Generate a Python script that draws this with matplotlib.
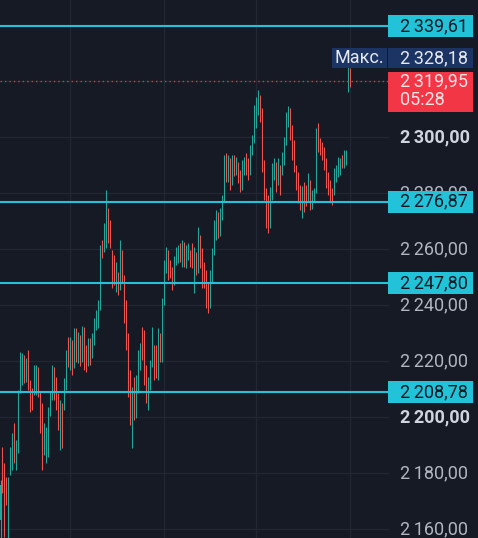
import matplotlib
matplotlib.use("Agg")
import matplotlib.pyplot as plt
import matplotlib.transforms as mtransforms
from matplotlib.patches import Rectangle
import numpy as np

plt.rcParams['font.family'] = ['Roboto', 'DejaVu Sans']

# candle data
opens = [2163.2, 2188.2, 2177.5, 2175.7, 2159.6, 2181.1, 2184.6, 2196.1, 2184.6, 2188.9,
         2209.6, 2215.0, 2220.4, 2213.9, 2220.4, 2211.4, 2207.0, 2209.6, 2211.4, 2216.8,
         2207.9, 2200.7, 2188.2, 2184.6, 2191.8, 2201.8, 2206.8, 2216.1, 2211.4, 2206.1,
         2191.8, 2202.5, 2204.3, 2211.4, 2225.7, 2218.6, 2225.7, 2218.6, 2229.3, 2220.4,
         2227.5, 2221.1, 2231.1, 2223.2, 2219.6, 2225.7, 2222.1, 2227.5, 2232.9, 2235.4,
         2240.0, 2261.4, 2259.6, 2261.4, 2273.9, 2268.6, 2257.9, 2256.1, 2246.1, 2250.7,
         2247.1, 2257.9, 2248.9, 2240.0, 2227.5, 2213.2, 2197.1, 2209.6, 2202.5, 2210.4,
         2219.6, 2229.3, 2227.5, 2216.8, 2204.3, 2211.4, 2218.6, 2224.6, 2223.9, 2216.1,
         2228.2, 2222.1, 2241.8, 2253.2, 2258.9, 2255.4, 2251.8, 2248.9, 2255.4, 2256.1,
         2261.4, 2255.4, 2261.4, 2254.3, 2256.8, 2258.6, 2261.4, 2254.0, 2257.9, 2252.5,
         2263.2, 2258.9, 2254.3, 2250.7, 2247.1, 2240.0, 2249.6, 2258.9, 2265.0, 2272.1,
         2266.1, 2272.1, 2278.2, 2291.8, 2285.4, 2291.1, 2283.9, 2292.5, 2287.5, 2290.0,
         2286.4, 2282.9, 2288.2, 2292.9, 2291.1, 2288.2, 2294.6, 2298.9, 2307.9, 2309.6,
         2313.2, 2307.9, 2290.0, 2280.4, 2277.5, 2272.1, 2279.3, 2286.4, 2290.0, 2284.6,
         2288.9, 2287.5, 2291.8, 2298.2, 2305.4, 2308.9, 2302.5, 2297.1, 2288.9, 2286.4,
         2281.8, 2273.9, 2282.9, 2281.8, 2278.2, 2283.9, 2275.7, 2278.2, 2281.1, 2303.2,
         2298.2, 2297.1, 2295.4, 2291.1, 2286.4, 2283.9, 2279.3, 2281.1, 2285.4, 2288.2,
         2288.2, 2292.5, 2290.0, 2291.8, 2317.0, 2323.0]
highs = [2177.5, 2189.3, 2183.6, 2178.6, 2178.6, 2189.3, 2194.3, 2197.9, 2191.8, 2209.6,
         2223.2, 2222.9, 2222.1, 2221.1, 2223.9, 2213.2, 2210.4, 2218.6, 2218.6, 2217.9,
         2208.9, 2205.0, 2197.9, 2196.4, 2203.6, 2208.9, 2218.6, 2217.9, 2214.3, 2208.6,
         2206.1, 2205.0, 2213.9, 2223.9, 2228.6, 2228.6, 2227.5, 2231.8, 2231.8, 2230.4,
         2229.3, 2232.5, 2232.1, 2225.7, 2228.2, 2228.2, 2230.0, 2235.4, 2238.2, 2241.8,
         2261.4, 2263.2, 2269.3, 2281.1, 2274.6, 2270.4, 2259.6, 2257.9, 2255.4, 2251.8,
         2263.2, 2259.6, 2250.7, 2241.8, 2230.0, 2216.8, 2210.7, 2214.3, 2215.0, 2223.9,
         2226.4, 2232.1, 2231.1, 2218.6, 2214.3, 2220.4, 2232.1, 2225.7, 2225.7, 2231.8,
         2230.0, 2242.5, 2256.1, 2260.7, 2259.6, 2256.1, 2253.6, 2257.5, 2260.7, 2261.4,
         2262.1, 2263.2, 2262.5, 2261.4, 2262.1, 2259.6, 2262.1, 2260.7, 2258.9, 2267.9,
         2265.0, 2260.4, 2255.4, 2252.5, 2248.2, 2252.5, 2260.4, 2270.4, 2273.9, 2273.2,
         2274.6, 2279.3, 2293.6, 2294.3, 2293.6, 2292.5, 2293.6, 2293.6, 2292.9, 2291.1,
         2288.2, 2291.8, 2292.9, 2294.3, 2292.5, 2297.1, 2300.7, 2311.4, 2314.3, 2316.8,
         2315.0, 2310.4, 2291.8, 2281.8, 2279.3, 2282.1, 2290.7, 2292.5, 2291.1, 2292.5,
         2290.0, 2294.6, 2300.0, 2308.9, 2311.1, 2310.4, 2304.3, 2298.9, 2290.0, 2287.5,
         2282.9, 2282.5, 2283.9, 2282.9, 2287.1, 2284.6, 2281.1, 2281.8, 2303.2, 2305.0,
         2299.6, 2298.2, 2296.4, 2292.5, 2287.5, 2284.6, 2281.8, 2288.9, 2290.0, 2292.9,
         2292.5, 2293.6, 2295.4, 2295.4, 2328.18, 2324.5]
lows = [2154.3, 2172.9, 2157.1, 2168.6, 2154.3, 2179.3, 2181.1, 2183.6, 2181.1, 2187.1,
        2208.6, 2211.4, 2212.1, 2212.5, 2209.6, 2201.8, 2202.5, 2207.9, 2207.9, 2207.1,
        2194.3, 2181.1, 2186.4, 2183.6, 2185.7, 2200.4, 2206.1, 2206.1, 2202.5, 2195.4,
        2188.2, 2188.9, 2202.5, 2209.6, 2217.9, 2216.8, 2215.0, 2217.5, 2219.6, 2219.3,
        2218.2, 2219.6, 2216.8, 2216.1, 2218.2, 2218.6, 2221.1, 2225.7, 2231.1, 2231.8,
        2238.2, 2256.8, 2258.9, 2260.4, 2262.1, 2260.4, 2246.1, 2247.1, 2244.6, 2243.6,
        2245.4, 2248.2, 2233.6, 2223.9, 2207.1, 2197.1, 2188.9, 2198.9, 2199.6, 2208.6,
        2216.8, 2220.4, 2211.4, 2205.0, 2202.5, 2209.6, 2217.9, 2213.2, 2213.9, 2213.2,
        2219.6, 2219.6, 2240.0, 2251.4, 2248.9, 2249.6, 2245.4, 2247.1, 2254.3, 2255.0,
        2255.4, 2253.6, 2253.6, 2253.2, 2256.1, 2253.6, 2253.2, 2244.3, 2250.7, 2251.4,
        2253.2, 2246.1, 2246.1, 2238.9, 2237.1, 2238.9, 2248.2, 2257.9, 2263.2, 2263.9,
        2264.6, 2270.4, 2276.8, 2283.9, 2283.9, 2281.1, 2282.9, 2286.1, 2286.4, 2283.6,
        2280.4, 2281.1, 2286.4, 2286.4, 2284.6, 2286.4, 2293.6, 2297.9, 2303.2, 2307.9,
        2305.4, 2287.5, 2277.5, 2267.5, 2265.7, 2267.5, 2277.5, 2284.6, 2280.4, 2282.9,
        2279.3, 2286.4, 2290.0, 2297.1, 2303.6, 2298.9, 2291.8, 2287.5, 2281.1, 2276.4,
        2273.9, 2271.1, 2273.2, 2275.4, 2276.8, 2273.9, 2274.3, 2276.8, 2280.0, 2294.6,
        2293.6, 2291.8, 2288.2, 2281.8, 2279.3, 2276.8, 2275.7, 2279.3, 2283.9, 2285.7,
        2286.4, 2288.9, 2288.9, 2290.0, 2316.0, 2318.0]
closes = [2175.7, 2173.9, 2159.6, 2170.4, 2177.5, 2188.2, 2191.8, 2186.4, 2190.0, 2207.9,
          2221.1, 2220.4, 2213.9, 2219.6, 2211.4, 2203.2, 2204.3, 2216.8, 2217.5, 2208.9,
          2197.1, 2186.4, 2196.1, 2193.6, 2202.5, 2206.8, 2216.8, 2207.9, 2204.3, 2197.1,
          2204.3, 2191.8, 2211.4, 2222.1, 2219.6, 2226.8, 2216.8, 2230.4, 2221.1, 2228.2,
          2220.4, 2231.1, 2222.1, 2218.6, 2226.8, 2221.1, 2228.2, 2233.9, 2237.5, 2240.0,
          2258.9, 2257.9, 2268.6, 2277.5, 2263.2, 2261.4, 2247.1, 2248.9, 2253.2, 2245.4,
          2261.4, 2249.6, 2236.4, 2225.7, 2211.4, 2200.7, 2207.9, 2201.8, 2211.4, 2220.4,
          2224.6, 2222.1, 2215.0, 2206.8, 2211.4, 2218.6, 2228.2, 2215.0, 2216.8, 2229.3,
          2222.1, 2241.8, 2254.3, 2258.9, 2250.7, 2250.7, 2246.4, 2255.4, 2259.6, 2260.4,
          2256.8, 2262.1, 2255.4, 2260.4, 2261.4, 2254.3, 2254.3, 2259.6, 2251.8, 2266.1,
          2254.3, 2247.1, 2247.1, 2240.0, 2238.2, 2250.7, 2258.9, 2268.6, 2273.2, 2266.1,
          2273.2, 2278.2, 2291.8, 2285.4, 2292.5, 2281.8, 2291.8, 2287.5, 2291.8, 2284.6,
          2281.8, 2290.0, 2291.8, 2287.5, 2285.4, 2295.4, 2298.9, 2309.6, 2313.2, 2315.0,
          2306.8, 2290.0, 2279.3, 2269.6, 2268.6, 2280.4, 2288.9, 2291.1, 2281.8, 2291.1,
          2281.1, 2293.6, 2298.9, 2307.9, 2309.6, 2300.7, 2293.6, 2288.9, 2282.9, 2278.2,
          2277.5, 2281.1, 2275.7, 2276.8, 2285.4, 2275.7, 2280.0, 2281.1, 2298.9, 2296.1,
          2294.6, 2292.9, 2290.0, 2283.6, 2281.1, 2278.2, 2277.5, 2287.5, 2289.3, 2291.8,
          2291.8, 2290.0, 2294.3, 2294.6, 2323.5, 2319.95]

levels = [2339.61, 2276.87, 2247.80, 2208.78]
price_ticks = [2160, 2180, 2200, 2220, 2240, 2260, 2280, 2300, 2320, 2340]
bold_ticks = [2200, 2300]
max_price = 2328.18
last_price = 2319.95
countdown = "05:28"
max_label = "Макс."

bg = '#161a25'
grid = '#232734'
up = '#26a69a'
down = '#ef5350'
cyan = '#22c3d8'
navy = '#1b3464'
red_box = '#f23645'

W, H = 478, 538
fig = plt.figure(figsize=(W / 100, H / 100), dpi=100)
fig.patch.set_facecolor(bg)
ax = fig.add_axes([0, 0, 1, 1])
ax.set_facecolor(bg)
for s in ax.spines.values():
    s.set_visible(False)
ax.set_xticks([])
ax.set_yticks([])

ymin, ymax = 2156.79, 2348.93
ax.set_xlim(-0.25, -0.25 + W / 2)
ax.set_ylim(ymin, ymax)
ppu = H / (ymax - ymin)   # pixels per price unit


def px(n):
    return n / ppu


scale_x = 388 / W   # where the price scale begins
text_x = 400 / W
box_w = (473 - 388) / W
blend = mtransforms.blended_transform_factory(ax.transAxes, ax.transData)

# grid
for p in price_ticks:
    ax.axhline(p, xmax=scale_x, color=grid, lw=0.9, zorder=0)
for t in [35, 82, 128, 175]:
    ax.axvline(t, color=grid, lw=0.9, zorder=0)

# candles
o = np.array(opens)
h = np.array(highs)
l = np.array(lows)
c = np.array(closes)
x = np.arange(len(o))
cols = np.where(c >= o, up, down)
ax.vlines(x, l, h, colors=cols, lw=0.8, zorder=2)
body = np.maximum(np.abs(c - o), 0.35)
ax.bar(x, body, bottom=np.minimum(o, c), width=0.9, color=cols, zorder=2, linewidth=0)

# level lines
for lv in levels:
    ax.axhline(lv, xmax=scale_x, color=cyan, lw=1.5, zorder=3)
ax.axhline(last_price, xmax=scale_x, color='#c8404f', lw=1.0,
           linestyle=(0, (1, 2.2)), zorder=3)


def fmt(p):
    return '{:,.2f}'.format(p).replace(',', '\u2009').replace('.', ',')


fs = 13
# price scale tick labels
for p in price_ticks:
    b = p in bold_ticks
    ax.text(text_x, p, fmt(p), transform=blend, ha='left', va='center',
            fontsize=fs, color='#d1d4dc' if b else '#b2b5be',
            fontweight='bold' if b else 'normal', zorder=4)

# level boxes
for lv in levels:
    ax.add_patch(Rectangle((scale_x, lv - px(11)), box_w, px(22), transform=blend,
                           color=cyan, zorder=5, lw=0))
    ax.text(text_x, lv, fmt(lv), transform=blend, ha='left', va='center',
            fontsize=fs, color='#131722', zorder=6)

# max label
ax.add_patch(Rectangle((scale_x, max_price - px(10)), box_w, px(20), transform=blend,
                       color=navy, zorder=5, lw=0))
ax.add_patch(Rectangle((332 / W, max_price - px(10)), (387 - 332) / W, px(20),
                       transform=blend, color=navy, zorder=5, lw=0))
ax.text(text_x, max_price, fmt(max_price), transform=blend, ha='left', va='center',
        fontsize=fs, color='#e6e8ee', zorder=6)
ax.text(359 / W, max_price, max_label, transform=blend, ha='center', va='center',
        fontsize=fs, color='#e6e8ee', zorder=6)

# last price box
ax.add_patch(Rectangle((scale_x, last_price - px(31)), box_w, px(40), transform=blend,
                       color=red_box, zorder=5, lw=0))
ax.text(text_x, last_price, fmt(last_price), transform=blend, ha='left', va='center',
        fontsize=fs, color='#fde4e6', zorder=6)
ax.text(text_x, last_price - px(19), countdown, transform=blend, ha='left', va='center',
        fontsize=fs, color='#fde4e6', zorder=6)

fig.savefig('out.png', dpi=100, facecolor=bg)
